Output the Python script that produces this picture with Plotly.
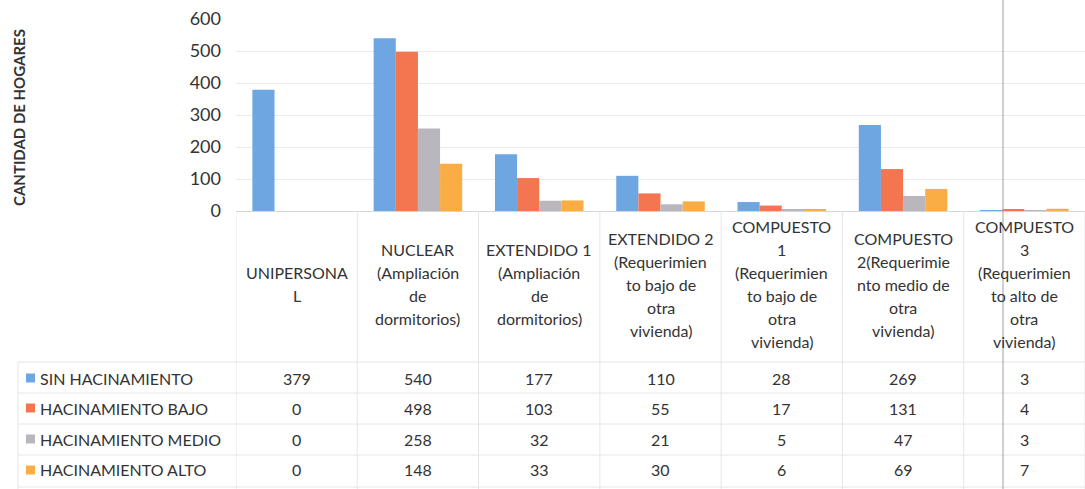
import plotly.graph_objects as go

# ---------------- data ----------------
category_lines = [
    ["UNIPERSONA", "L"],
    ["NUCLEAR", "(Ampliación", "de", "dormitorios)"],
    ["EXTENDIDO 1", "(Ampliación", "de", "dormitorios)"],
    ["EXTENDIDO 2", "(Requerimien", "to bajo de", "otra", "vivienda)"],
    ["COMPUESTO", "1", "(Requerimien", "to bajo de", "otra", "vivienda)"],
    ["COMPUESTO", "2(Requerimie", "nto medio de", "otra", "vivienda)"],
    ["COMPUESTO", "3", "(Requerimien", "to alto de", "otra", "vivienda)"],
]
categories = [" ".join(l) for l in category_lines]

series_names = ["SIN HACINAMIENTO", "HACINAMIENTO BAJO", "HACINAMIENTO MEDIO", "HACINAMIENTO ALTO"]
sin_hacinamiento = [379, 540, 177, 110, 28, 269, 3]
hacinamiento_bajo = [0, 498, 103, 55, 17, 131, 4]
hacinamiento_medio = [0, 258, 32, 21, 5, 47, 3]
hacinamiento_alto = [0, 148, 33, 30, 6, 69, 7]
series_values = [sin_hacinamiento, hacinamiento_bajo, hacinamiento_medio, hacinamiento_alto]

y_ticks = [0, 100, 200, 300, 400, 500, 600]
y_title = "CANTIDAD DE HOGARES"

colors = ["#6EA6E2", "#F47650", "#B9B6BE", "#FAAD44"]

# ---------------- layout geometry ----------------
W, H = 1085, 489
L, R, T, B = 236, 0, 19, 278
PH = H - T - B  # plot height in px
PW = W - L - R


def py(p):  # pixel y -> paper y
    return (H - B - p) / PH


def px(p):  # pixel x -> paper x
    return (p - L) / PW


FONT = "Lato"
TXT = "#333333"
FS = 16

fig = go.Figure()
for name, vals, col in zip(series_names, series_values, colors):
    fig.add_trace(go.Bar(x=categories, y=vals, name=name, marker_color=col,
                         marker_line_width=0, showlegend=False))

shapes = []
annotations = []

# table grid lines (light)
GRID = "#E6E6E6"
row_lines = [362, 393, 424, 455, 487]
row_centers = [378, 408, 439, 470]
for i in range(len(categories) + 1):
    shapes.append(dict(type="line", xref="x", yref="paper", x0=i - 0.5, x1=i - 0.5,
                       y0=py(211), y1=py(489), line=dict(color=GRID, width=1)))
for r in row_lines:
    shapes.append(dict(type="line", xref="paper", yref="paper", x0=px(18), x1=px(1085),
                       y0=py(r), y1=py(r), line=dict(color=GRID, width=1)))
shapes.append(dict(type="line", xref="paper", yref="paper", x0=px(18), x1=px(18),
                   y0=py(362), y1=py(489), line=dict(color=GRID, width=1)))

# header (category) labels, one annotation per wrapped line
LINE_H = 23
HEAD_C = 284
for i, lines in enumerate(category_lines):
    n = len(lines)
    for k, t in enumerate(lines):
        yc = HEAD_C + (k - (n - 1) / 2) * LINE_H
        annotations.append(dict(x=i, y=py(yc), xref="x", yref="paper", text=t,
                                showarrow=False, xanchor="center", yanchor="middle",
                                font=dict(family=FONT, size=FS, color=TXT)))

# legend keys + names, values
for s, (name, vals, col) in enumerate(zip(series_names, series_values, colors)):
    yc = row_centers[s]
    shapes.append(dict(type="rect", xref="paper", yref="paper", x0=px(26), x1=px(35),
                       y0=py(yc + 4.5), y1=py(yc - 4.5), fillcolor=col, line=dict(width=0)))
    annotations.append(dict(x=px(38), y=py(yc), xref="paper", yref="paper", text=name,
                            showarrow=False, xanchor="left", yanchor="middle",
                            font=dict(family=FONT, size=FS, color=TXT)))
    for i, v in enumerate(vals):
        annotations.append(dict(x=i, y=py(yc), xref="x", yref="paper", text=str(v),
                                showarrow=False, xanchor="center", yanchor="middle",
                                font=dict(family=FONT, size=FS, color=TXT)))

# y title
annotations.append(dict(x=px(19), y=py(118), xref="paper", yref="paper", text="<b>" + y_title + "</b>",
                        showarrow=False, textangle=-90, xanchor="center", yanchor="middle",
                        font=dict(family=FONT, size=15, color=TXT)))

# scan artifact vertical line
shapes.append(dict(type="line", xref="paper", yref="paper", x0=px(1003), x1=px(1003),
                   y0=py(0), y1=py(489), line=dict(color="#A0A0A0", width=1)))

fig.update_layout(
    width=W, height=H,
    margin=dict(l=L, r=R, t=T, b=B),
    paper_bgcolor="white", plot_bgcolor="white",
    barmode="group", bargap=0.27, bargroupgap=0,
    shapes=shapes, annotations=annotations,
    xaxis=dict(showticklabels=False, showgrid=False, zeroline=False, showline=False,
               range=[-0.5, 6.5], ticks=""),
    yaxis=dict(range=[0, 600], tickvals=y_ticks, showgrid=True, gridcolor="#EBEBEB",
               zeroline=True, zerolinecolor="#D6D6D6", zerolinewidth=1,
               showline=False, ticks="", ticklen=0, ticklabelstandoff=14,
               tickfont=dict(family=FONT, size=18, color=TXT)),
)

fig.write_html("out.html")
